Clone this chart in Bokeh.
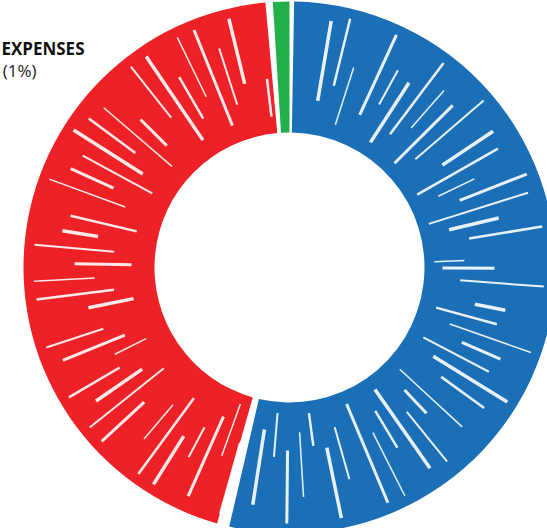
import numpy as np
from bokeh.plotting import figure
from bokeh.models import ColumnDataSource
from bokeh.core.properties import value
from bokeh.embed import file_html
from bokeh.resources import INLINE

# Budget split shown as a donut (share of total, percent)
categories = ["Other expenses", "Programs", "Operations"]
shares = [1, 54, 45]
colors = ["#22B04B", "#1A6FB7", "#EE2126"]

label_lines = ["EXPENSES", "(1%)"]

W, H = 547, 528
cx, cy = 289, 261          # donut centre in canvas units
r_in, r_out = 135, 266
start_deg = -3.6           # first slice starts just left of 12 o'clock
# white gaps are cut from the two big slices so the thin one keeps its full width
trim_start = np.array([0.0, 1.0, 1.4])
trim_end = np.array([0.0, 1.3, 1.6])

p = figure(width=W, height=H, x_range=(0, W), y_range=(0, H),
           output_backend="svg", toolbar_location=None,
           min_border=0, outline_line_color=None)
p.axis.visible = False
p.grid.visible = False
p.background_fill_color = "white"
p.border_fill_color = "white"

total = float(sum(shares))
cum = np.cumsum([0] + shares) / total * 360.0 + start_deg
starts = np.deg2rad(90 - (cum[:-1] + trim_start))
ends = np.deg2rad(90 - (cum[1:] - trim_end))

src = ColumnDataSource(dict(cat=categories, share=shares, color=colors,
                            start=starts, end=ends))
p.annular_wedge(x=cx, y=cy, inner_radius=r_in, outer_radius=r_out,
                start_angle="start", end_angle="end", direction="clock",
                fill_color="color", line_color=None, source=src)

# brush-stroke texture: white radial streaks of uneven length across the ring
n_streaks = 80
k = np.arange(n_streaks)
ang = np.deg2rad(k * (360.0 / n_streaks) + 2.3 + (k * 13 % 7) * 0.4)
r0 = r_in + 10 + (k * 37 % 55)
r1 = np.minimum(r0 + 30 + (k * 53 % 85), r_out - 10)
widths = 1.5 + (k * 7 % 5) * 0.5
keep = np.abs(((np.rad2deg(ang) - 90 + 180) % 360) - 180) > 6  # leave the thin slice clean
p.segment(x0=(cx + r0 * np.cos(ang))[keep], y0=(cy + r0 * np.sin(ang))[keep],
          x1=(cx + r1 * np.cos(ang))[keep], y1=(cy + r1 * np.sin(ang))[keep],
          line_color="white", line_width=widths[keep], line_alpha=0.9)

# label for the small slice, tucked into the top-left corner
p.text(x=[84], y=[H - 48], text=[label_lines[0]],
       text_font=value("Open Sans"), text_font_style="bold",
       text_font_size="17px", text_color="#111111",
       text_align="right", text_baseline="alphabetic")
p.text(x=[36], y=[H - 70], text=[label_lines[1]],
       text_font=value("Open Sans"), text_font_size="17px",
       text_color="#222222", text_align="right", text_baseline="alphabetic")

open("out.html", "w").write(file_html(p, INLINE))
